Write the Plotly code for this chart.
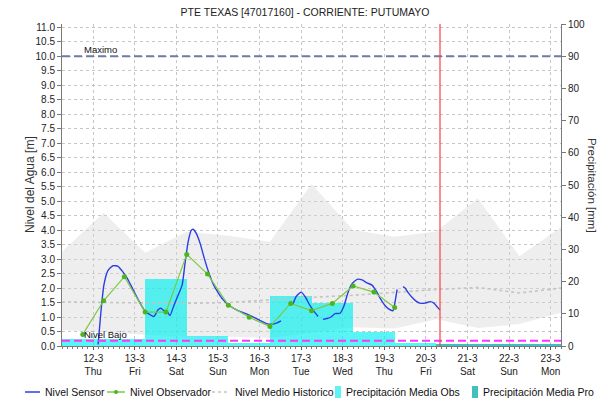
import plotly.graph_objects as go

# ---------------- data ----------------
title_text = "PTE TEXAS [47017160] - CORRIENTE: PUTUMAYO"

sensor_time = [
    "2020-03-12 02:50", "2020-03-12 04:30", "2020-03-12 06:10", "2020-03-12 08:30",
    "2020-03-12 11:25", "2020-03-12 14:20", "2020-03-12 16:35", "2020-03-12 19:30",
    "2020-03-12 23:00", "2020-03-13 02:25", "2020-03-13 05:55", "2020-03-13 08:50",
    "2020-03-13 11:05", "2020-03-13 13:25", "2020-03-13 15:05", "2020-03-13 16:55",
    "2020-03-13 18:35", "2020-03-13 20:20", "2020-03-13 22:35", "2020-03-14 01:00",
    "2020-03-14 03:20", "2020-03-14 05:00", "2020-03-14 06:40", "2020-03-14 08:30",
    "2020-03-14 09:35", "2020-03-14 11:20", "2020-03-14 13:40", "2020-03-14 16:00",
    "2020-03-14 18:20", "2020-03-14 21:10", "2020-03-15 00:00", "2020-03-15 02:55",
    "2020-03-15 07:00", "2020-03-15 11:35", "2020-03-15 16:50", "2020-03-15 22:00",
    "2020-03-16 03:40", "2020-03-16 07:10", "2020-03-16 10:05", "2020-03-16 12:25",
    "2020-03-16 15:00",
    "2020-03-16 19:20", "2020-03-16 21:05", "2020-03-17 00:00", "2020-03-17 02:20",
    "2020-03-17 05:05", "2020-03-17 08:00", "2020-03-17 09:50",
    "2020-03-17 11:00",
    "2020-03-17 12:35", "2020-03-17 15:00", "2020-03-17 17:15", "2020-03-17 19:35",
    "2020-03-17 22:30", "2020-03-18 00:50", "2020-03-18 03:05", "2020-03-18 05:25",
    "2020-03-18 08:20", "2020-03-18 11:10", "2020-03-18 14:00", "2020-03-18 16:55",
    "2020-03-18 19:50", "2020-03-18 22:05", "2020-03-19 00:25", "2020-03-19 02:40",
    "2020-03-19 05:05", "2020-03-19 06:10", "2020-03-19 07:25",
    "2020-03-19 09:00",
    "2020-03-19 10:50", "2020-03-19 12:00", "2020-03-19 13:40", "2020-03-19 16:00",
    "2020-03-19 18:20", "2020-03-19 20:35", "2020-03-19 23:30", "2020-03-20 02:25",
    "2020-03-20 04:40", "2020-03-20 06:30", "2020-03-20 08:10",
]
sensor_level = [
    0.05, 1.2, 2.1, 2.6,
    2.77, 2.75, 2.6, 2.35,
    1.95, 1.55, 1.2, 1.08,
    1.02, 1.25, 1.3, 1.22,
    1.2, 1.05, 1.4, 1.75,
    2.1, 2.85, 3.55, 3.98,
    4.03, 3.9, 3.55, 3.05,
    2.6, 2.15, 1.85, 1.6,
    1.38, 1.22, 1.1, 0.95,
    0.78, 0.75, 0.8, 0.87,
    None,
    1.45, 1.7, 1.86, 1.7,
    1.4, 1.15, 1.02,
    None,
    0.92, 0.95, 1.0, 1.12,
    1.13, 1.4, 1.85, 2.15,
    2.3, 2.28, 2.18, 2.1,
    1.85, 1.6, 1.4, 1.27,
    1.22, 1.5, 1.95,
    None,
    2.05, 2.0, 1.85, 1.68,
    1.55, 1.48, 1.48, 1.53,
    1.48, 1.35, 1.24,
]

obs_time = [
    "2020-03-11 18:00", "2020-03-12 06:00", "2020-03-12 18:00", "2020-03-13 06:00",
    "2020-03-13 18:00", "2020-03-14 06:00", "2020-03-14 18:00", "2020-03-15 06:00",
    "2020-03-15 18:00", "2020-03-16 06:00", "2020-03-16 18:00", "2020-03-17 06:00",
    "2020-03-17 18:00", "2020-03-18 06:00", "2020-03-18 18:00", "2020-03-19 06:00",
]
obs_level = [0.4, 1.56, 2.39, 1.17, 1.17, 3.16, 2.48, 1.41,
             0.99, 0.67, 1.47, 1.22, 1.47, 2.07, 1.86, 1.33]

hist_days = [
    "2020-03-11 06:00", "2020-03-12 06:00", "2020-03-13 06:00", "2020-03-14 06:00",
    "2020-03-15 06:00", "2020-03-16 06:00", "2020-03-17 06:00", "2020-03-18 06:00",
    "2020-03-19 06:00", "2020-03-20 06:00", "2020-03-21 06:00", "2020-03-22 06:00",
    "2020-03-23 06:00",
]
hist_max = [3.25, 4.6, 3.22, 3.94, 3.8, 3.6, 5.59, 4.0, 3.77, 3.95, 5.1, 3.1, 4.1]
hist_min = [0.55, 0.48, 0.38, 0.32, 0.32, 0.28, 0.45, 0.65, 0.6, 0.92, 0.62, 0.76, 1.15]
hist_mean = [1.52, 1.5, 1.47, 1.47, 1.5, 1.6, 1.68, 1.75, 1.85, 1.95, 2.02, 1.83, 2.0]

precip_obs_start = [
    "2020-03-11 06:00", "2020-03-12 06:00", "2020-03-13 06:00", "2020-03-14 06:00",
    "2020-03-15 06:00", "2020-03-16 06:00", "2020-03-17 06:00", "2020-03-18 06:00",
    "2020-03-19 06:00",
]
precip_obs_mm = [2.2, 2.2, 20.7, 3.1, 0.8, 15.6, 13.4, 4.4, 1.0]

precip_pro_start = ["2020-03-20 06:00", "2020-03-21 06:00", "2020-03-22 06:00"]
precip_pro_mm = [0.6, 0.6, 0.6]

nivel_maximo = 10.0
nivel_bajo = 0.18
current_time = "2020-03-20 08:10"

tick_dates = ["2020-03-%02d" % d for d in range(12, 24)]
tick_labels = ["12-3<br>Thu", "13-3<br>Fri", "14-3<br>Sat", "15-3<br>Sun",
               "16-3<br>Mon", "17-3<br>Tue", "18-3<br>Wed", "19-3<br>Thu",
               "20-3<br>Fri", "21-3<br>Sat", "22-3<br>Sun", "23-3<br>Mon"]

legend_labels = ["Nivel Sensor", "Nivel Observador", "Nivel Medio Historico",
                 "Precipitación Media Obs", "Precipitación Media Pro"]

# ---------------- style ----------------
FONT = "Liberation Sans, Arial, sans-serif"
BLUE = "#2a3ee6"
GREEN_LINE = "#7cc845"
GREEN_MK = "#4cb51c"
MEAN_GRAY = "#c4c4c4"
OBS_COLOR = "rgba(0,240,240,0.65)"
PRO_COLOR = "rgba(0,171,171,0.75)"
DAY_MS = 86400000
LEVEL_RANGE = [0, 11.11]

W, H = 610, 401
ML, MR, MT, MB = 62, 49, 24, 55
PW, PH = W - ML - MR, H - MT - MB


def px_x(px):
    return (px - ML) / PW


def px_y(py):
    return (H - MB - py) / PH


fig = go.Figure()

# historic band (min -> max)
fig.add_trace(go.Scatter(x=hist_days, y=hist_min, mode="lines",
                         line=dict(width=0, color="rgba(0,0,0,0)"),
                         showlegend=False, hoverinfo="skip", yaxis="y"))
fig.add_trace(go.Scatter(x=hist_days, y=hist_max, mode="lines", fill="tonexty",
                         fillcolor="rgba(215,215,215,0.42)",
                         line=dict(width=0, color="rgba(0,0,0,0)"),
                         showlegend=False, hoverinfo="skip", yaxis="y"))

# precipitation bars
fig.add_trace(go.Bar(x=precip_obs_start, y=precip_obs_mm, width=DAY_MS, offset=0,
                     marker=dict(color=OBS_COLOR, line=dict(width=0)),
                     name="Precipitación Media Obs", yaxis="y2", showlegend=False))
fig.add_trace(go.Bar(x=precip_pro_start, y=precip_pro_mm, width=DAY_MS, offset=0,
                     marker=dict(color=PRO_COLOR, line=dict(width=0)),
                     name="Precipitación Media Pro", yaxis="y2", showlegend=False))

# level lines
fig.add_trace(go.Scatter(x=hist_days, y=hist_mean, mode="lines",
                         line=dict(color=MEAN_GRAY, width=1.6, dash="3px,3px"),
                         name="Nivel Medio Historico", yaxis="y3", showlegend=False))
fig.add_trace(go.Scatter(x=sensor_time, y=sensor_level, mode="lines",
                         line=dict(color=BLUE, width=1.4, shape="spline", smoothing=0.5),
                         connectgaps=False,
                         name="Nivel Sensor", yaxis="y3", showlegend=False))
fig.add_trace(go.Scatter(x=obs_time, y=obs_level, mode="lines+markers",
                         line=dict(color=GREEN_LINE, width=1.2),
                         marker=dict(color=GREEN_MK, size=5, symbol="circle"),
                         name="Nivel Observador", yaxis="y3", showlegend=False))

shapes = [
    dict(type="line", xref="paper", x0=0, x1=1, yref="y", y0=nivel_maximo, y1=nivel_maximo,
         line=dict(color="#6c7ca6", width=2, dash="8px,4px"), layer="above"),
    dict(type="line", xref="paper", x0=0, x1=1, yref="y", y0=nivel_bajo, y1=nivel_bajo,
         line=dict(color="#ff33ff", width=2, dash="8px,4px"), layer="above"),
    dict(type="line", xref="x", x0=current_time, x1=current_time, yref="paper", y0=0, y1=1,
         line=dict(color="#ff4040", width=1.2), layer="above"),
]

annotations = [
    dict(text="Maximo", xref="paper", x=px_x(82), xanchor="left", yref="y", y=nivel_maximo,
         yanchor="bottom", yshift=-1, showarrow=False, font=dict(size=9.5, color="#111", family=FONT)),
    dict(text="Nivel Bajo", xref="paper", x=px_x(82), xanchor="left", yref="y", y=nivel_bajo,
         yanchor="bottom", yshift=-1, showarrow=False, font=dict(size=9.5, color="#111", family=FONT)),
    dict(text="Nivel del Agua [m]", xref="paper", x=px_x(30), xanchor="center",
         yref="paper", y=0.5, yanchor="middle",
         textangle=-90, showarrow=False, font=dict(size=12, color="#333", family=FONT)),
    dict(text="Precipitación [mm]", xref="paper", x=px_x(592), xanchor="center",
         yref="paper", y=0.5, yanchor="middle",
         textangle=90, showarrow=False, font=dict(size=11.5, color="#333", family=FONT)),
]

# manual single-row legend
leg_y = px_y(392)
sym_x = [25, 107, 212, 335, 472]
sym_kind = ["line", "linemk", "dot", "rect", "rect"]
sym_color = [BLUE, GREEN_LINE, MEAN_GRAY, "#5ff3f3", "#40c0c0"]
for lbl, sx, kind, col in zip(legend_labels, sym_x, sym_kind, sym_color):
    if kind in ("line", "linemk", "dot"):
        ln = 15 if kind == "line" else 18
        dash = "solid" if kind != "dot" else "3px,3px"
        shapes.append(dict(type="line", xref="paper", yref="paper",
                           x0=px_x(sx), x1=px_x(sx + ln), y0=leg_y, y1=leg_y,
                           line=dict(color=col, width=1.5, dash=dash), layer="above"))
        if kind == "linemk":
            cx = sx + ln / 2
            shapes.append(dict(type="circle", xref="paper", yref="paper",
                               x0=px_x(cx - 2), x1=px_x(cx + 2), y0=px_y(394), y1=px_y(390),
                               fillcolor=GREEN_MK, line=dict(width=0), layer="above"))
        tx = sx + ln + 3
    else:
        shapes.append(dict(type="rect", xref="paper", yref="paper",
                           x0=px_x(sx), x1=px_x(sx + 6), y0=px_y(398), y1=px_y(386),
                           fillcolor=col, line=dict(width=0), layer="above"))
        tx = sx + 9
    annotations.append(dict(text=lbl, xref="paper", yref="paper", x=px_x(tx), y=leg_y,
                            xanchor="left", yanchor="middle", showarrow=False,
                            font=dict(size=10.5, color="#111", family=FONT)))

fig.update_layout(
    width=W, height=H,
    margin=dict(l=ML, r=MR, t=MT, b=MB, pad=0),
    paper_bgcolor="white", plot_bgcolor="white",
    font=dict(family=FONT, size=10, color="#222"),
    title=dict(text=title_text, x=0.5, xref="container", xanchor="center",
               y=1 - 12 / H, yref="container", yanchor="middle",
               font=dict(size=10.5, color="#222", family=FONT)),
    showlegend=False,
    barmode="overlay", bargap=0,
    xaxis=dict(type="date", range=["2020-03-11 06:00", "2020-03-23 06:00"],
               tickvals=tick_dates, ticktext=tick_labels,
               showgrid=True, gridcolor="#c6c6c6", griddash="dot", gridwidth=1,
               showline=True, linecolor="#7a7a7a", linewidth=1,
               ticks="outside", ticklen=3, tickcolor="#555",
               minor=dict(dtick=3 * 3600000, ticks="outside", ticklen=2, tickcolor="#777",
                          showgrid=False),
               tickfont=dict(size=10, color="#222"), zeroline=False),
    yaxis=dict(range=LEVEL_RANGE, dtick=0.5, tick0=0, tickformat=".1f",
               showgrid=True, gridcolor="#c6c6c6", griddash="dot", gridwidth=1,
               showline=True, linecolor="#7a7a7a", linewidth=1,
               ticks="outside", ticklen=4, tickcolor="#777",
               tickfont=dict(size=10, color="#222"), zeroline=False),
    yaxis2=dict(range=[0, 100], dtick=10, overlaying="y", side="right", anchor="x",
                showgrid=False, showline=True, linecolor="#7a7a7a", linewidth=1,
                ticks="outside", ticklen=4, tickcolor="#777",
                tickfont=dict(size=10, color="#222"), zeroline=False),
    yaxis3=dict(range=LEVEL_RANGE, overlaying="y", anchor="x", visible=False,
                showgrid=False, zeroline=False),
    shapes=shapes,
    annotations=annotations,
)

fig.write_html("out.html", config={"displayModeBar": False},
               post_script="document.body.style.margin='0';")
